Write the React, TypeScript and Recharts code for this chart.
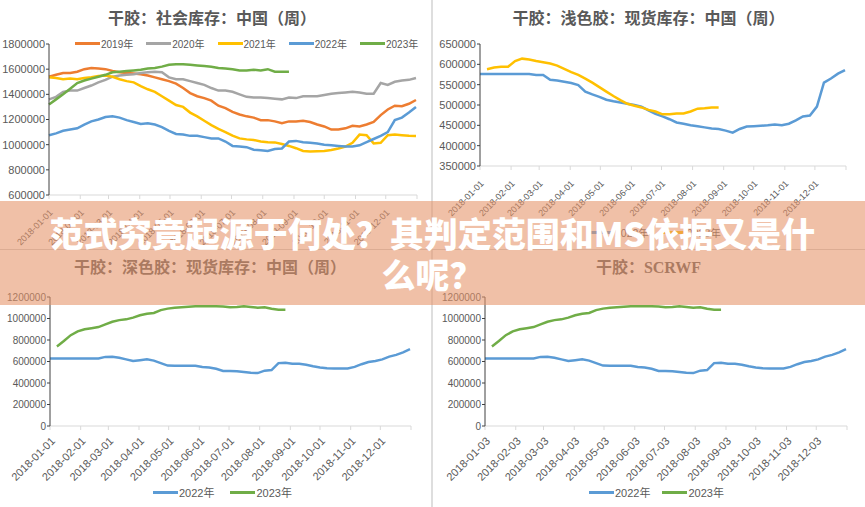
import React from 'react';
import { LineChart, Line, XAxis, YAxis } from 'recharts';

// ---------- categories ----------
const WEEK_DAYS = [0,7,14,21,28,35,42,49,56,63,70,77,84,91,98,105,112,119,126,133,140,147,154,161,168,175,182,189,196,203,210,217,224,231,238,245,252,259,266,273,280,287,294,301,308,315,322,329,336,343,350,357,364];
const MONTH_DAYS = [0,31,59,90,120,151,181,212,243,273,304,334,365];
const MONTH_LABELS_01 = ['2018-01-01','2018-02-01','2018-03-01','2018-04-01','2018-05-01','2018-06-01','2018-07-01','2018-08-01','2018-09-01','2018-10-01','2018-11-01','2018-12-01',''];
const MONTH_LABELS_03 = ['2018-01-03','2018-02-03','2018-03-03','2018-04-03','2018-05-03','2018-06-03','2018-07-03','2018-08-03','2018-09-03','2018-10-03','2018-11-03','2018-12-03',''];

// ---------- tick labels ----------
const TICKS_SOCIAL = [600000,800000,1000000,1200000,1400000,1600000,1800000];
const TICKS_LIGHT = [350000,400000,450000,500000,550000,600000,650000];
const TICKS_DARK = [0,200000,400000,600000,800000,1000000,1200000];

// ---------- series (thousand tons) ----------
const SOCIAL_2019 = [1540,1555,1570,1570,1580,1600,1610,1605,1600,1585,1575,1570,1565,1560,1550,1535,1520,1505,1485,1450,1410,1385,1370,1350,1310,1290,1260,1240,1225,1215,1195,1195,1185,1170,1185,1185,1190,1180,1160,1145,1120,1120,1130,1150,1145,1160,1180,1235,1280,1310,1305,1325,1355];
const SOCIAL_2020 = [1360,1380,1420,1430,1430,1450,1470,1495,1515,1540,1550,1555,1560,1570,1575,1580,1575,1535,1520,1520,1505,1490,1475,1450,1430,1430,1420,1400,1380,1375,1375,1370,1365,1360,1375,1370,1385,1385,1385,1395,1405,1410,1415,1420,1415,1405,1405,1490,1475,1500,1510,1515,1530];
const SOCIAL_2021 = [1535,1530,1520,1525,1520,1530,1535,1545,1550,1540,1520,1505,1495,1465,1440,1420,1385,1350,1315,1300,1255,1225,1190,1155,1125,1100,1072,1050,1042,1037,1025,1020,1018,1005,990,972,950,945,948,950,958,970,985,1015,1080,1075,1010,1015,1075,1080,1075,1070,1068];
const SOCIAL_2022 = [1075,1090,1110,1120,1130,1160,1185,1200,1220,1225,1215,1195,1180,1165,1170,1160,1140,1110,1085,1080,1070,1070,1060,1050,1050,1025,990,985,980,960,955,950,965,970,1025,1030,1020,1015,1010,1000,995,990,985,985,995,1020,1045,1070,1100,1195,1215,1255,1300];
const SOCIAL_2023 = [1320,1360,1400,1445,1490,1510,1525,1540,1555,1575,1580,1585,1590,1595,1605,1610,1620,1635,1640,1640,1635,1630,1625,1620,1610,1605,1600,1590,1590,1595,1590,1600,1580,1580,1580];

const LIGHT_2022 = [576,576,576,576,576,576,576,576,574,574,562,560,557,554,549,533,526,520,513,509,506,503,500,496,487,478,472,465,457,454,450,448,445,442,441,437,432,441,447,448,449,450,452,450,454,462,472,474,496,555,565,577,586];
const LIGHT_2023 = [null,588,592,594,594,608,614,612,608,605,602,597,589,581,574,565,555,544,533,522,512,503,498,494,488,484,477,477,479,479,484,491,492,494,494];

const DARK_2022 = [628,628,628,628,628,628,628,628,643,645,635,620,605,612,620,608,585,562,560,560,560,560,548,545,532,512,512,510,502,495,492,515,520,585,588,580,578,570,555,545,537,535,535,535,550,575,595,605,620,645,662,685,715];
const DARK_2023 = [null,740,790,845,880,900,910,920,945,970,985,992,1008,1030,1045,1052,1078,1092,1100,1105,1110,1115,1115,1115,1115,1112,1105,1108,1115,1108,1100,1105,1090,1082,1082];

const SCRWF_2022 = DARK_2022;
const SCRWF_2023 = DARK_2023;

const C_ORANGE = '#ED7D31';
const C_GRAY = '#A5A5A5';
const C_YELLOW = '#FFC000';
const C_BLUE = '#5B9BD5';
const C_GREEN = '#70AD47';
const TEXT = '#595959';
const AXIS_GRAY = '#d9d9d9';

type S = { key: string; label: string; color: string; values: (number | null)[] };

function buildRows(series: S[]) {
  return WEEK_DAYS.map((day, i) => {
    const row: any = { day };
    series.forEach((s) => {
      const v = s.values[i];
      row[s.key] = v === undefined || v === null ? null : v * 1000;
    });
    return row;
  });
}

const SOCIAL_SERIES: S[] = [
  { key: 'y2019', label: '2019年', color: C_ORANGE, values: SOCIAL_2019 },
  { key: 'y2020', label: '2020年', color: C_GRAY, values: SOCIAL_2020 },
  { key: 'y2021', label: '2021年', color: C_YELLOW, values: SOCIAL_2021 },
  { key: 'y2022', label: '2022年', color: C_BLUE, values: SOCIAL_2022 },
  { key: 'y2023', label: '2023年', color: C_GREEN, values: SOCIAL_2023 },
];
const LIGHT_SERIES: S[] = [
  { key: 'y2022', label: '2022年', color: C_BLUE, values: LIGHT_2022 },
  { key: 'y2023', label: '2023年', color: C_YELLOW, values: LIGHT_2023 },
];
const DARK_SERIES: S[] = [
  { key: 'y2022', label: '2022年', color: C_BLUE, values: DARK_2022 },
  { key: 'y2023', label: '2023年', color: C_GREEN, values: DARK_2023 },
];
const SCRWF_SERIES: S[] = [
  { key: 'y2022', label: '2022年', color: C_BLUE, values: SCRWF_2022 },
  { key: 'y2023', label: '2023年', color: C_GREEN, values: SCRWF_2023 },
];

function DateTick(props: any) {
  const { x, y, payload, labels, fontSize, ox, oy } = props;
  const idx = MONTH_DAYS.indexOf(payload.value);
  const label = idx >= 0 ? labels[idx] : '';
  return (
    <g transform={`translate(${x + ox},${y + oy})`}>
      <text x={0} y={0} dy="0.35em" textAnchor="end" transform="rotate(-45)" fontSize={fontSize} fill={TEXT} fontFamily="'Liberation Sans', Arial, sans-serif">
        {label}
      </text>
    </g>
  );
}

function Panel(p: {
  left: number; top: number; width: number; height: number; series: S[];
  yTicks: number[]; yWidth: number; xHeight: number; margin: any;
  xLabels: string[]; xFont: number; yFont: number; ox: number; oy: number;
}) {
  const rows = buildRows(p.series);
  return (
    <div style={{ position: 'absolute', left: p.left, top: p.top }}>
      <LineChart width={p.width} height={p.height} data={rows} margin={p.margin}>
        <XAxis
          type="number"
          dataKey="day"
          domain={[0, 365]}
          ticks={MONTH_DAYS}
          interval={0}
          height={p.xHeight}
          axisLine={{ stroke: AXIS_GRAY, strokeWidth: 1 }}
          tickLine={{ stroke: AXIS_GRAY }}
          tickSize={4}
          tick={(tp: any) => <DateTick {...tp} labels={p.xLabels} fontSize={p.xFont} ox={p.ox} oy={p.oy} />}
        />
        <YAxis
          type="number"
          domain={[p.yTicks[0], p.yTicks[p.yTicks.length - 1]]}
          ticks={p.yTicks}
          interval={0}
          width={p.yWidth}
          axisLine={{ stroke: '#404040', strokeWidth: 1 }}
          tickLine={{ stroke: '#404040' }}
          tickSize={3}
          tickMargin={1}
          tick={{ fill: TEXT, fontSize: p.yFont, fontFamily: "'Liberation Sans', Arial, sans-serif" }}
        />
        {p.series.map((s) => (
          <Line
            key={s.key}
            type="linear"
            dataKey={s.key}
            stroke={s.color}
            strokeWidth={2.5}
            dot={false}
            activeDot={false}
            connectNulls={false}
            isAnimationActive={false}
          />
        ))}
      </LineChart>
    </div>
  );
}

function LegendRow(p: { left: number; cy: number; series: S[]; fontSize: number; gap: number }) {
  return (
    <div style={{ position: 'absolute', left: p.left, top: p.cy - 8, height: 16, display: 'flex', alignItems: 'center', whiteSpace: 'nowrap' }}>
      {p.series.map((s, i) => (
        <div key={s.key} style={{ display: 'flex', alignItems: 'center', marginLeft: i === 0 ? 0 : p.gap }}>
          <span style={{ display: 'inline-block', width: 25, height: 3, background: s.color }} />
          <span style={{ fontSize: p.fontSize, color: TEXT, fontFamily: "'Liberation Sans','Noto Sans CJK SC',sans-serif", marginLeft: 1 }}>{s.label}</span>
        </div>
      ))}
    </div>
  );
}

function Title(p: { left: number; width: number; cy: number; text: string }) {
  return (
    <div style={{ position: 'absolute', left: p.left, width: p.width, top: p.cy - 10, height: 20, lineHeight: '20px', textAlign: 'center', fontSize: 16, fontWeight: 700, color: TEXT, fontFamily: "'Liberation Serif','Noto Sans CJK SC',serif", whiteSpace: 'nowrap' }}>
      {p.text}
    </div>
  );
}

export default function App() {
  return (
    <div style={{ position: 'absolute', left: 0, top: 0, width: 865, height: 507, background: '#ffffff', overflow: 'hidden' }}>
      {/* separators */}
      <div style={{ position: 'absolute', left: 431, top: 0, width: 2, height: 507, background: '#dedede' }} />
      <div style={{ position: 'absolute', left: 0, top: 249, width: 865, height: 1, background: '#d0d0d0' }} />

      {/* top-left */}
      <Title left={0} width={424} cy={19} text="干胶：社会库存：中国（周）" />
      <Panel left={0} top={0} width={432} height={250} series={SOCIAL_SERIES} yTicks={TICKS_SOCIAL}
        yWidth={49} xHeight={55} margin={{ top: 44, right: 15, left: 0, bottom: 0 }}
        xLabels={MONTH_LABELS_01} xFont={9} yFont={11} ox={2} oy={10} />
      <LegendRow left={75} cy={43} series={SOCIAL_SERIES} fontSize={10} gap={13} />

      {/* top-right */}
      <Title left={432} width={433} cy={19} text="干胶：浅色胶：现货库存：中国（周）" />
      <Panel left={432} top={0} width={433} height={250} series={LIGHT_SERIES} yTicks={TICKS_LIGHT}
        yWidth={48} xHeight={84} margin={{ top: 44, right: 19, left: 0, bottom: 0 }}
        xLabels={MONTH_LABELS_01} xFont={9} yFont={11} ox={2} oy={10} />
      <LegendRow left={589} cy={232} series={LIGHT_SERIES} fontSize={10.5} gap={12} />

      {/* bottom-left */}
      <Title left={0} width={420} cy={268} text="干胶：深色胶：现货库存：中国（周）" />
      <Panel left={0} top={250} width={432} height={257} series={DARK_SERIES} yTicks={TICKS_DARK}
        yWidth={50} xHeight={81} margin={{ top: 47, right: 21, left: 0, bottom: 0 }}
        xLabels={MONTH_LABELS_01} xFont={11} yFont={10} ox={3} oy={7} />
      <LegendRow left={153} cy={492} series={DARK_SERIES} fontSize={11} gap={16} />

      {/* bottom-right */}
      <Title left={432} width={433} cy={268} text="干胶：SCRWF" />
      <Panel left={432} top={250} width={433} height={257} series={SCRWF_SERIES} yTicks={TICKS_DARK}
        yWidth={53} xHeight={81} margin={{ top: 47, right: 18, left: 0, bottom: 0 }}
        xLabels={MONTH_LABELS_03} xFont={11} yFont={10} ox={3} oy={7} />
      <LegendRow left={589} cy={492} series={SCRWF_SERIES} fontSize={11} gap={12} />

      {/* banner overlay */}
      <div style={{ position: 'absolute', left: 0, top: 201, width: 865, height: 104, background: 'rgba(230,146,104,0.58)', display: 'flex', flexDirection: 'column', justifyContent: 'center', alignItems: 'center', zIndex: 10 }}>
        <div style={{ color: '#ffffff', fontFamily: "'Noto Sans CJK SC',sans-serif", fontWeight: 900, fontSize: 34, lineHeight: '41px', whiteSpace: 'nowrap', textAlign: 'center' }}>范式究竟起源于何处？其判定范围和MS依据又是什</div>
        <div style={{ color: '#ffffff', fontFamily: "'Noto Sans CJK SC',sans-serif", fontWeight: 900, fontSize: 34, lineHeight: '41px', whiteSpace: 'nowrap', textAlign: 'center' }}>么呢？</div>
      </div>
    </div>
  );
}
